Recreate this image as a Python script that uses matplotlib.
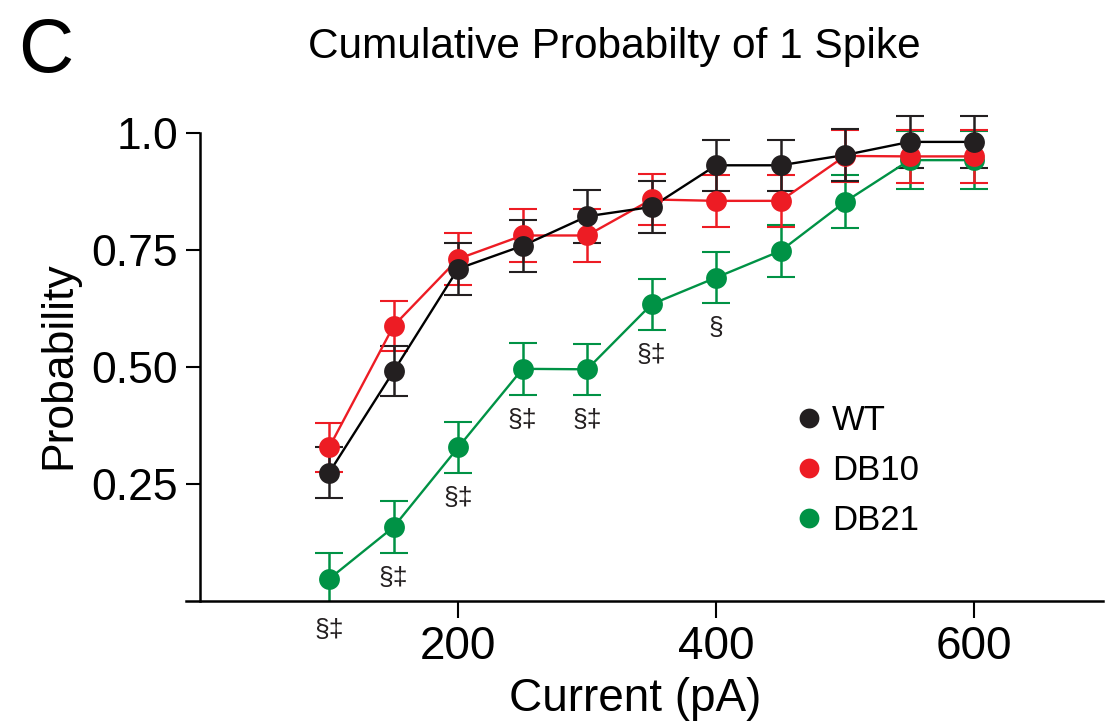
import numpy as np
import matplotlib
matplotlib.use("Agg")
import matplotlib.pyplot as plt

plt.rcParams['font.family'] = ['Liberation Sans', 'DejaVu Sans']

current = [100, 150, 200, 250, 300, 350, 400, 450, 500, 550, 600]

wt = [0.274, 0.491, 0.710, 0.759, 0.822, 0.842, 0.931, 0.931, 0.953, 0.981, 0.981]
wt_err = [0.055, 0.054, 0.056, 0.056, 0.056, 0.056, 0.055, 0.055, 0.055, 0.056, 0.056]

db10 = [0.328, 0.588, 0.731, 0.781, 0.781, 0.858, 0.855, 0.855, 0.951, 0.950, 0.950]
db10_err = [0.053, 0.054, 0.055, 0.056, 0.057, 0.055, 0.055, 0.055, 0.055, 0.056, 0.056]

db21 = [0.047, 0.158, 0.328, 0.496, 0.495, 0.634, 0.691, 0.748, 0.853, 0.942, 0.942]
db21_err = [0.055, 0.055, 0.055, 0.055, 0.055, 0.055, 0.055, 0.055, 0.057, 0.062, 0.062]

# significance marks under the DB21 points
sig_x = [100, 150, 200, 250, 300, 350, 400]
sig_txt = ["§‡", "§‡", "§‡", "§‡", "§‡", "§‡", "§"]

fig = plt.figure(figsize=(11.07, 7.24), dpi=100)
ax = fig.add_axes([0.168, 0.170, 0.8284, 0.6786])

series = [
    ("DB21", db21, db21_err, "#009245", "#009245"),
    ("DB10", db10, db10_err, "#ed1c24", "#ed1c24"),
    ("WT", wt, wt_err, "#231f20", "black"),
]
handles = {}
for name, vals, err, mc, lc in series:
    ax.errorbar(current, vals, yerr=err, fmt="none", ecolor=mc, elinewidth=1.8,
                capsize=10, capthick=1.5, zorder=2)
    ax.plot(current, vals, color=lc, lw=1.7, zorder=3)
    h, = ax.plot(current, vals, "o", color=mc, ms=15, mec="none", zorder=4, label=name)
    handles[name] = h

for x, t in zip(sig_x, sig_txt):
    i = current.index(x)
    ax.annotate(t, (x, db21[i] - db21_err[i]), xytext=(0, -18), textcoords="offset points",
                ha="center", va="center", fontsize=19, color="#231f20",
                annotation_clip=False)

ax.set_xlim(-11, 700)
ax.set_ylim(0, 1.05)
ax.spines["top"].set_visible(False)
ax.spines["right"].set_visible(False)
ax.spines["left"].set_position(("data", 0))
ax.spines["left"].set_bounds(0, 1.0)
for s in ("left", "bottom"):
    ax.spines[s].set_linewidth(1.8)

ax.set_xticks([200, 400, 600])
ax.set_yticks([0.25, 0.5, 0.75, 1.0])
ax.set_yticklabels(["0.25", "0.50", "0.75", "1.0"])
ax.tick_params(axis="x", length=12, width=1.5, labelsize=33, pad=5)
ax.tick_params(axis="y", length=10, width=1.5, labelsize=32, pad=6)

ax.set_xlabel("Current (pA)", fontsize=33)
ax.xaxis.set_label_coords(0.49, -0.155)
ax.set_ylabel("Probability", fontsize=32)
ax.yaxis.set_label_coords(-0.116, 0.48)

fig.text(614 / 1107, 1 - 47 / 724, "Cumulative Probabilty of 1 Spike", fontsize=30.5,
         ha="center", va="center")
fig.text(0.016, 1 - 72 / 724, "C", fontsize=55, ha="left", va="baseline")

leg = ax.legend([handles["WT"], handles["DB10"], handles["DB21"]], ["WT", "DB10", "DB21"],
                loc="center left", bbox_to_anchor=(0.7214, 0.3495),
                bbox_transform=fig.transFigure, frameon=False, fontsize=25,
                handlelength=0.6, handletextpad=0.36, borderpad=0, borderaxespad=0,
                labelspacing=0.49, markerscale=0.95)

fig.savefig("out.png", dpi=100)
